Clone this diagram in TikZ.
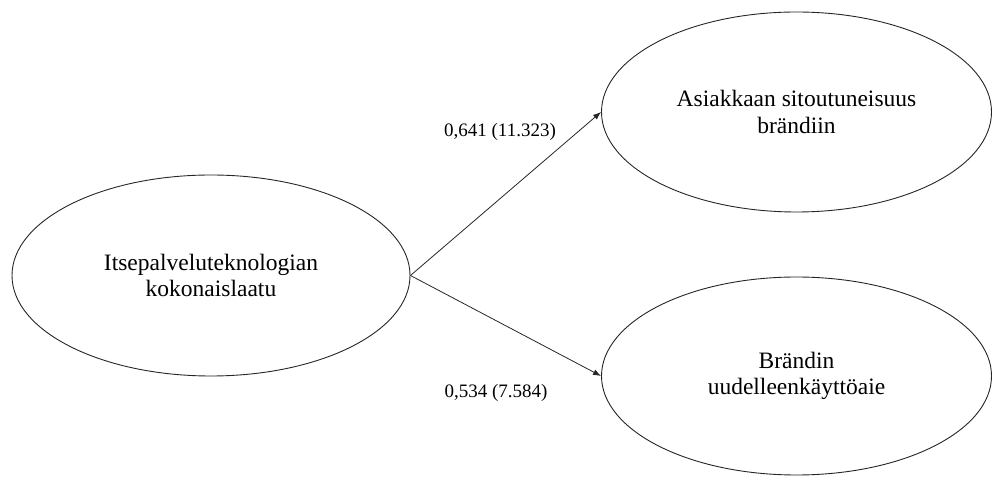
\documentclass[tikz,border=0pt]{standalone}
\usepackage{fontspec}
\setmainfont{Liberation Serif}
\usetikzlibrary{shapes.geometric,arrows.meta}

\tikzset{
  construct/.style={draw=black!85, line width=0.9pt, ellipse, inner sep=0pt,
    align=center, font=\fontsize{23.5}{26.5}\selectfont},
  path/.style={draw=black!85, line width=0.8pt,
    -{Latex[length=8pt,width=6pt]}},
  coef/.style={font=\fontsize{19}{22}\selectfont, inner sep=0pt}
}

\begin{document}
\begin{tikzpicture}[x=1pt,y=1pt]
  \useasboundingbox (0,0) rectangle (992,476);

  % latent constructs
  \node[construct, minimum width=398pt, minimum height=201pt] (quality)
    at (211,200.5) {Itsepalveluteknologian\\kokonaislaatu};
  \node[construct, minimum width=390pt, minimum height=200pt] (engagement)
    at (796.5,364) {Asiakkaan sitoutuneisuus\\brändiin};
  \node[construct, minimum width=390pt, minimum height=198pt] (reuse)
    at (796.5,100) {Brändin\\uudelleenkäyttöaie};

  % structural paths
  \draw[path] (quality.east) -- (engagement.west);
  \draw[path] (quality.east) -- (reuse.west);

  % path coefficients (t-values)
  \node[coef] (c1) at (500,344) {0,641 (11.323)};
  \node[coef] (c2) at (496,83) {0,534 (7.584)};
\end{tikzpicture}
\end{document}
